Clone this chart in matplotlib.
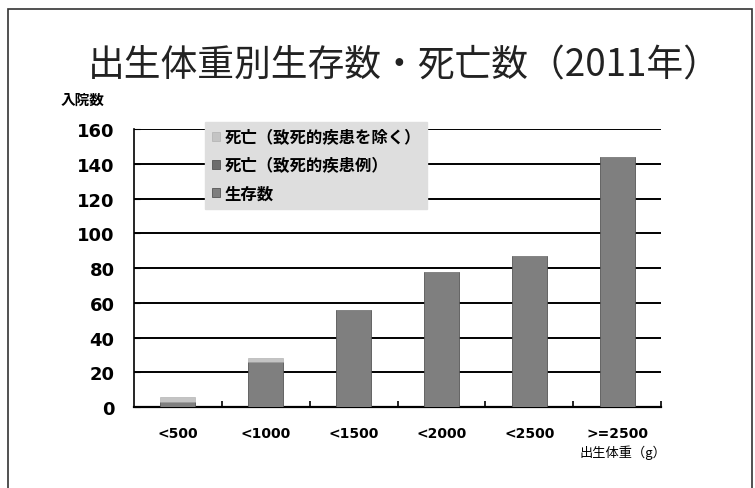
import matplotlib
matplotlib.use("Agg")
import matplotlib.pyplot as plt
from matplotlib.patches import Rectangle
import numpy as np

plt.rcParams['font.family'] = ['Noto Sans CJK JP', 'DejaVu Sans']

categories = ['<500', '<1000', '<1500', '<2000', '<2500', '>=2500']
survived = [3, 26, 56, 78, 87, 144]
death_fatal = [0, 0, 0, 0, 0, 0]
death_other = [3, 2, 0, 0, 0, 0]

fig = plt.figure(figsize=(7.55, 4.89), dpi=100)
ax = fig.add_axes([0.1775, 0.1656, 0.698, 0.5684])

x = np.arange(len(categories))
w = 0.4
c_surv = '#7f7f7f'
c_fatal = '#6e6e6e'
c_other = '#c4c4c4'

b1 = ax.bar(x, survived, w, color=c_surv, edgecolor='#555555', linewidth=0.6, zorder=3)
bottom2 = np.array(survived)
b2 = ax.bar(x, death_fatal, w, bottom=bottom2, color=c_fatal, edgecolor='#555555', linewidth=0.6, zorder=3)
bottom3 = bottom2 + np.array(death_fatal)
b3 = ax.bar(x, death_other, w, bottom=bottom3, color=c_other, edgecolor='#aaaaaa', linewidth=0.4, zorder=3)

ax.set_xlim(-0.5, 5.5)
ax.set_ylim(0, 160)
ax.set_yticks(range(0, 161, 20))
ax.yaxis.grid(True, color='black', linewidth=1.4, zorder=1)
ax.set_axisbelow(True)
for s in ['top', 'right']:
    ax.spines[s].set_visible(False)
ax.spines['left'].set_linewidth(1.2)
ax.spines['bottom'].set_linewidth(1.6)

ax.set_xticks(x)
ax.set_xticklabels(categories, fontsize=10, fontweight='bold', family=['DejaVu Sans'])
ax.tick_params(axis='x', length=0, pad=14)
ax.set_xticks(np.arange(0.5, 5.6, 1), minor=True)
ax.tick_params(axis='x', which='minor', direction='in', length=4, width=1.2)
ax.tick_params(axis='y', direction='in', length=4, labelsize=13, pad=14)
for t in ax.get_yticklabels():
    t.set_fontweight('bold')
    t.set_family(['DejaVu Sans'])

leg = ax.legend([b3, b2, b1], ['死亡（致死的疾患を除く）', '死亡（致死的疾患例）', '生存数'],
                loc='upper left', bbox_to_anchor=(0.12, 1.055), fontsize=11.8,
                frameon=True, fancybox=False, handlelength=0.5, handleheight=0.5,
                handletextpad=0.25, labelspacing=0.6, borderpad=0.4)
leg.get_frame().set_facecolor('#dedede')
leg.get_frame().set_edgecolor('#dedede')
leg.get_frame().set_alpha(1)
for t in leg.get_texts():
    t.set_fontweight('bold')

fig.text(0.535, 0.865, '出生体重別生存数・死亡数（2011年）', ha='center', va='center',
         fontsize=26.5, color='#222222')
fig.text(0.08, 0.795, '入院数', ha='left', va='center', fontsize=10.5, fontweight='bold')
fig.text(0.768, 0.075, '出生体重（g）', ha='left', va='center', fontsize=9.5)

fig.patches.append(Rectangle((0.011, -0.01), 0.985, 0.99, transform=fig.transFigure,
                             fill=False, edgecolor='#333333', linewidth=1.2))

fig.savefig('out.png', dpi=100)
